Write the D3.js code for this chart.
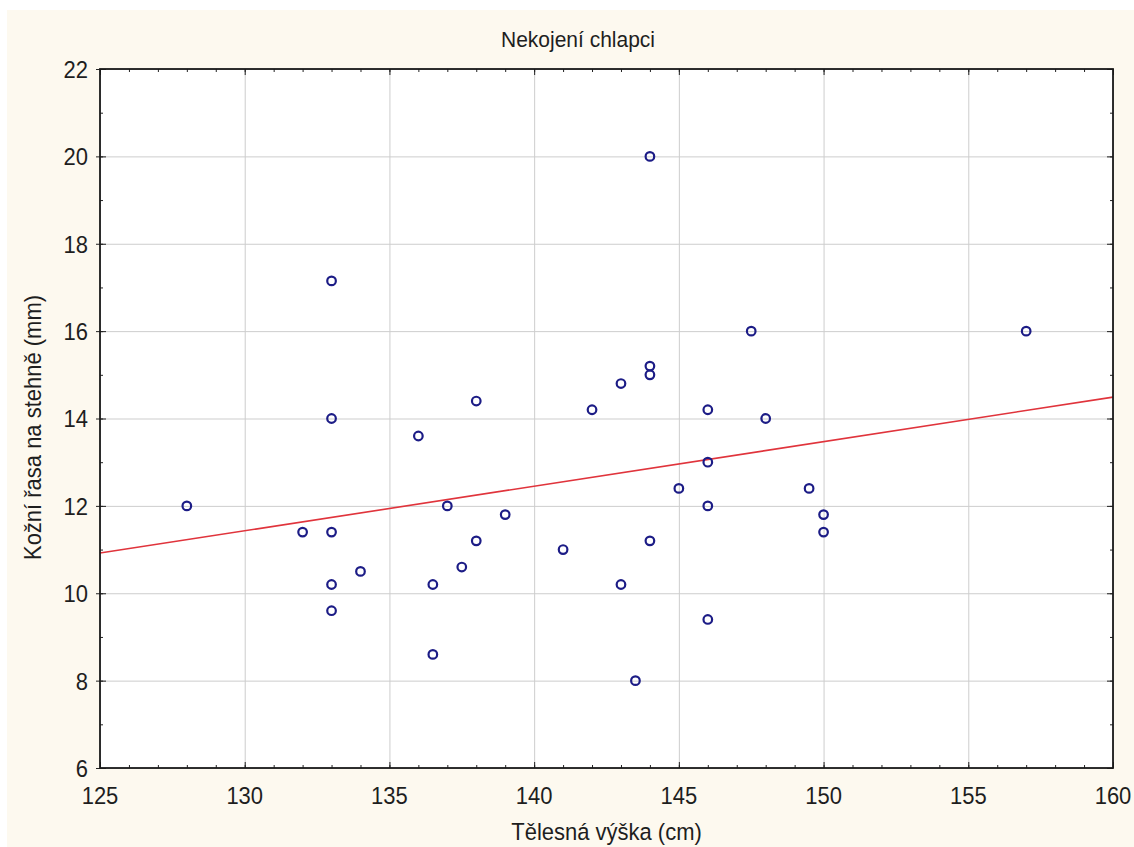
<!DOCTYPE html>
<html>
<head>
<meta charset="utf-8">
<script src="https://cdn.jsdelivr.net/npm/d3@7"></script>
<style>
  body { margin: 0; background: #ffffff; }
  text { font-family: "Liberation Sans", Arial, sans-serif; fill: #1e1e1e; }
</style>
</head>
<body>
<svg width="1134" height="847"></svg>
<script>
// Body height (cm) and thigh skinfold (mm) for each boy
const heights = [128, 132, 133, 133, 133, 133, 133, 134, 136, 136.5, 136.5, 137, 137.5, 138, 138,
  139, 141, 142, 143, 143, 143.5, 144, 144, 144, 144, 145, 146, 146, 146, 146, 147.5, 148, 149.5, 150, 150, 157];
const skinfolds = [12, 11.4, 17.15, 14, 11.4, 10.2, 9.6, 10.5, 13.6, 10.2, 8.6, 12, 10.6, 14.4, 11.2,
  11.8, 11, 14.2, 14.8, 10.2, 8, 20, 15.2, 15, 11.2, 12.4, 14.2, 13, 12, 9.4, 16, 14, 12.4, 11.8, 11.4, 16];

// Tick values
const xTicks = [125, 130, 135, 140, 145, 150, 155, 160];
const yTicks = [6, 8, 10, 12, 14, 16, 18, 20, 22];
const xMinor = d3.range(125, 161, 1);
const yMinor = d3.range(6, 23, 1);

// Fitted line: skinfold = a + b * height
const fitIntercept = -1.83;
const fitSlope = 0.102;

const svg = d3.select("svg");
const W = 1134, H = 847;
const plot = { left: 100, top: 69, right: 1113, bottom: 768 };

// background: cream panel with a thin white strip top and left
svg.append("rect").attr("width", W).attr("height", H).attr("fill", "#ffffff");
svg.append("rect").attr("x", 7).attr("y", 10).attr("width", W - 7).attr("height", H - 10).attr("fill", "#fdf9ef");
svg.append("rect")
  .attr("x", plot.left).attr("y", plot.top)
  .attr("width", plot.right - plot.left).attr("height", plot.bottom - plot.top)
  .attr("fill", "#ffffff");

const x = d3.scaleLinear().domain([125, 160]).range([plot.left, plot.right]);
const y = d3.scaleLinear().domain([6, 22]).range([plot.bottom, plot.top]);

// grid lines
svg.append("g")
  .attr("transform", `translate(0,${plot.bottom})`)
  .call(d3.axisBottom(x).tickValues(xTicks).tickSize(-(plot.bottom - plot.top)).tickFormat(""))
  .call(g => g.select(".domain").remove())
  .call(g => g.selectAll("line").attr("stroke", "#cdcdcd"));
svg.append("g")
  .attr("transform", `translate(${plot.left},0)`)
  .call(d3.axisLeft(y).tickValues(yTicks).tickSize(-(plot.right - plot.left)).tickFormat(""))
  .call(g => g.select(".domain").remove())
  .call(g => g.selectAll("line").attr("stroke", "#cdcdcd"));

// regression line
const line = d3.line().x(d => x(d)).y(d => y(fitIntercept + fitSlope * d));
svg.append("path")
  .datum([125, 160])
  .attr("d", line)
  .attr("fill", "none")
  .attr("stroke", "#e0343c")
  .attr("stroke-width", 1.6);

// points
svg.append("g")
  .selectAll("circle")
  .data(heights.map((h, i) => [h, skinfolds[i]]))
  .join("circle")
  .attr("cx", d => x(d[0]))
  .attr("cy", d => y(d[1]))
  .attr("r", 4.3)
  .attr("fill", "none")
  .attr("stroke", "#1c1c86")
  .attr("stroke-width", 2.2);

// ticks (inward minor and major) on all four sides
function ticks(axis, transform, values, size) {
  svg.append("g")
    .attr("transform", transform)
    .call(axis.tickValues(values).tickSize(size).tickFormat(""))
    .call(g => g.select(".domain").remove())
    .call(g => g.selectAll("line").attr("stroke", "#222"));
}
ticks(d3.axisBottom(x), `translate(0,${plot.bottom})`, xMinor, -3);
ticks(d3.axisBottom(x), `translate(0,${plot.bottom})`, xTicks, -6);
ticks(d3.axisTop(x), `translate(0,${plot.top})`, xMinor, -3);
ticks(d3.axisTop(x), `translate(0,${plot.top})`, xTicks, -6);
ticks(d3.axisLeft(y), `translate(${plot.left},0)`, yMinor, -3);
ticks(d3.axisLeft(y), `translate(${plot.left},0)`, yTicks, -6);
ticks(d3.axisLeft(y), `translate(${plot.left},0)`, yTicks, 4);
ticks(d3.axisRight(y), `translate(${plot.right},0)`, yMinor, -3);
ticks(d3.axisRight(y), `translate(${plot.right},0)`, yTicks, -6);

// frame
svg.append("rect")
  .attr("x", plot.left).attr("y", plot.top)
  .attr("width", plot.right - plot.left).attr("height", plot.bottom - plot.top)
  .attr("fill", "none")
  .attr("stroke", "#1a1a1a")
  .attr("stroke-width", 1.8);

// tick labels (slightly tall, as in the reference)
svg.append("g")
  .selectAll("text")
  .data(xTicks)
  .join("text")
  .attr("transform", d => `translate(${x(d)},${plot.bottom + 36}) scale(1,1.12)`)
  .attr("text-anchor", "middle")
  .attr("font-size", 22)
  .text(d => d);
svg.append("g")
  .selectAll("text")
  .data(yTicks)
  .join("text")
  .attr("transform", d => `translate(${plot.left - 12},${y(d)}) scale(1,1.12)`)
  .attr("dy", "0.36em")
  .attr("text-anchor", "end")
  .attr("font-size", 22)
  .text(d => d);

// titles
svg.append("text")
  .attr("transform", "translate(578,47) scale(1,1.08)")
  .attr("text-anchor", "middle")
  .attr("font-size", 21)
  .text("Nekojení chlapci");
svg.append("text")
  .attr("transform", `translate(${(plot.left + plot.right) / 2},840) scale(1,1.08)`)
  .attr("text-anchor", "middle")
  .attr("font-size", 22)
  .text("Tělesná výška (cm)");
svg.append("text")
  .attr("transform", `translate(41,${(plot.top + plot.bottom) / 2 + 9}) rotate(-90) scale(1,1.08)`)
  .attr("text-anchor", "middle")
  .attr("font-size", 22)
  .text("Kožní řasa na stehně (mm)");
</script>
</body>
</html>
